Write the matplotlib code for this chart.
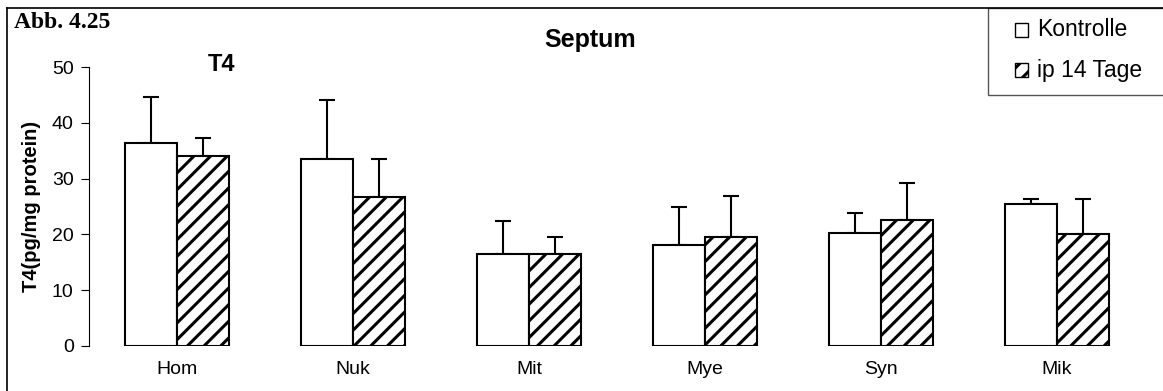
import matplotlib
matplotlib.use("Agg")
import matplotlib.pyplot as plt
from matplotlib.patches import Rectangle
from matplotlib.lines import Line2D
import numpy as np

# ── data ── #
categories = ["Hom", "Nuk", "Mit", "Mye", "Syn", "Mik"]
kontrolle = [36.4, 33.6, 16.4, 18.1, 20.3, 25.4]
kontrolle_err = [8.3, 10.5, 6.0, 6.9, 3.6, 0.9]
ip14 = [34.0, 26.7, 16.4, 19.6, 22.5, 20.0]
ip14_err = [3.2, 6.8, 3.2, 7.2, 6.8, 6.4]
series_labels = ["Kontrolle", "ip 14 Tage"]
yticks = [0, 10, 20, 30, 40, 50]

plt.rcParams["font.family"] = ["Liberation Sans", "DejaVu Sans"]
plt.rcParams["hatch.linewidth"] = 2.2

W, H = 1163, 391
fig = plt.figure(figsize=(W / 100, H / 100), dpi=100)
ax = fig.add_axes([89 / W, (H - 346) / H, (1145 - 89) / W, (346 - 67) / H])

x = np.arange(len(categories))
bw = 0.295
ax.bar(x - bw / 2, kontrolle, width=bw, color="white", edgecolor="black",
       linewidth=1.5, zorder=2)
ax.bar(x + bw / 2, ip14, width=bw, color="white", edgecolor="black",
       hatch="//", linewidth=1.5, zorder=2)
ax.errorbar(x - bw / 2, kontrolle, yerr=[np.zeros(len(x)), kontrolle_err],
            fmt="none", ecolor="black", elinewidth=1.5, capsize=5.5,
            capthick=1.5, zorder=1)
ax.errorbar(x + bw / 2, ip14, yerr=[np.zeros(len(x)), ip14_err],
            fmt="none", ecolor="black", elinewidth=1.5, capsize=5.5,
            capthick=1.5, zorder=1)

ax.set_xlim(-0.5, len(categories) - 0.5)
ax.set_ylim(0, 50)
ax.set_yticks(yticks)
ax.tick_params(axis="y", labelsize=14, direction="out", length=6, width=0.8,
               pad=5)
ax.set_xticks(x)
ax.set_xticklabels(categories, fontsize=14)
ax.tick_params(axis="x", length=0, pad=11)
for s in ["top", "right", "bottom"]:
    ax.spines[s].set_visible(False)
ax.spines["left"].set_linewidth(0.8)
ax.set_ylabel("T4(pg/mg protein)", fontsize=14.5, fontweight="bold",
              labelpad=8)

ax.text(0.25, 50.5, "T4", fontsize=17, fontweight="bold", ha="center",
        va="center")
fig.text(590 / W, 1 - 40 / H, "Septum", fontsize=18, fontweight="bold",
         ha="center", va="center")
fig.text(14 / W, 1 - 23 / H, "Abb. 4.25", fontsize=17, fontweight="bold",
         family=["Liberation Serif", "DejaVu Serif"], ha="left", va="center")

# outer frame
fig.add_artist(Line2D([7 / W, 7 / W], [0, 1 - 8 / H], color="black",
                      linewidth=1.2, transform=fig.transFigure))
fig.add_artist(Line2D([7 / W, 1], [1 - 8 / H, 1 - 8 / H], color="black",
                      linewidth=1.2, transform=fig.transFigure))

# legend box (drawn by hand to match the padding of the original)
fig.add_artist(Rectangle((988 / W, 1 - 95 / H), 180 / W, 87 / H,
                         transform=fig.transFigure, facecolor="white",
                         edgecolor="#555555", linewidth=1.0))
for label, hatch, yc in zip(series_labels, [None, "//"], [30, 70]):
    fig.add_artist(Rectangle((1015 / W, 1 - (yc + 6.5) / H), 13 / W, 13 / H,
                             transform=fig.transFigure, facecolor="white",
                             edgecolor="black", linewidth=1.0, hatch=hatch))
    fig.text(1037 / W, 1 - yc / H, label, fontsize=16.5, ha="left",
             va="center")

fig.savefig("out.png", dpi=100)
